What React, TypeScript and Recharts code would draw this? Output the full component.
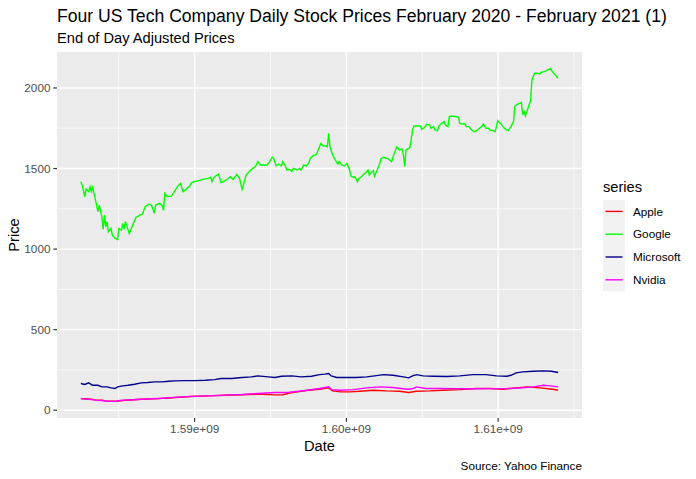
import { LineChart, Line, XAxis, YAxis, CartesianGrid, Legend } from "recharts";

// trading day offsets counted from 2020-02-24, adjusted close prices
const startDate = Date.UTC(2020, 1, 24) / 1000;
const DAY = 86400;

const seriesNames = ["Apple", "Google", "Microsoft", "Nvidia"];
const seriesColors = ["#FF0000", "#00FF00", "#00008B", "#FF00FF"];

const appleDays = [0, 4, 8, 11, 16, 19, 23, 27, 30, 34, 40, 46, 59, 72, 84, 97, 110, 123, 135, 148, 154, 159, 173, 182, 189, 192, 198, 205, 213, 223, 233, 243, 250, 256, 266, 276, 289, 302, 312, 322, 332, 340, 350, 360, 364];
const applePrice = [72, 70, 68, 64, 62, 58, 56, 56, 59, 62, 65, 68, 72, 79, 85, 89, 93, 96, 100, 95, 96, 106, 124, 130, 139, 120, 114, 114, 118, 124, 120, 118, 110, 118, 120, 124, 128, 135, 135, 130, 139, 145, 139, 130, 124];

const googleDays = [0, 1, 3, 4, 6, 7, 8, 9, 10, 12, 13, 14, 16, 17, 18, 19, 20, 21, 23, 24, 26, 28, 29, 31, 32, 33, 34, 36, 37, 40, 42, 45, 47, 49, 52, 54, 56, 57, 60, 62, 63, 64, 66, 69, 72, 74, 76, 78, 81, 83, 84, 86, 90, 93, 97, 99, 100, 102, 105, 107, 111, 114, 116, 119, 121, 123, 124, 126, 129, 131, 133, 135, 137, 140, 142, 144, 146, 147, 149, 151, 153, 154, 156, 157, 159, 161, 162, 165, 167, 168, 170, 172, 174, 175, 177, 179, 180, 182, 183, 185, 187, 188, 189, 190, 192, 194, 196, 197, 199, 201, 203, 205, 206, 208, 209, 211, 212, 214, 216, 218, 219, 220, 222, 223, 224, 226, 228, 229, 231, 233, 235, 237, 239, 241, 243, 245, 246, 247, 248, 250, 251, 253, 254, 257, 259, 260, 262, 264, 266, 267, 269, 270, 272, 273, 275, 277, 278, 280, 281, 283, 286, 288, 289, 291, 293, 294, 296, 298, 300, 302, 304, 306, 307, 309, 311, 312, 314, 316, 318, 320, 322, 324, 326, 328, 330, 331, 333, 335, 336, 337, 338, 339, 341, 343, 344, 345, 346, 348, 350, 351, 354, 356, 358, 360, 364];
const googlePrice = [1418, 1397, 1325, 1373, 1356, 1387, 1356, 1383, 1346, 1273, 1232, 1273, 1201, 1122, 1211, 1139, 1170, 1107, 1128, 1087, 1066, 1060, 1128, 1118, 1159, 1122, 1170, 1118, 1097, 1159, 1196, 1211, 1218, 1263, 1280, 1271, 1222, 1273, 1284, 1273, 1240, 1346, 1325, 1329, 1366, 1391, 1408, 1356, 1377, 1391, 1408, 1418, 1425, 1433, 1439, 1446, 1418, 1449, 1466, 1412, 1429, 1449, 1433, 1464, 1439, 1371, 1398, 1460, 1486, 1501, 1511, 1543, 1522, 1522, 1522, 1543, 1570, 1564, 1516, 1528, 1516, 1543, 1516, 1491, 1495, 1482, 1501, 1491, 1501, 1491, 1522, 1516, 1536, 1564, 1578, 1584, 1594, 1635, 1656, 1640, 1640, 1635, 1718, 1635, 1584, 1553, 1528, 1543, 1522, 1516, 1532, 1491, 1453, 1445, 1449, 1418, 1439, 1449, 1466, 1480, 1491, 1460, 1480, 1486, 1453, 1491, 1532, 1563, 1570, 1564, 1557, 1543, 1594, 1635, 1615, 1622, 1584, 1511, 1615, 1625, 1631, 1739, 1764, 1764, 1764, 1743, 1755, 1776, 1770, 1750, 1760, 1739, 1735, 1764, 1780, 1791, 1770, 1760, 1822, 1826, 1822, 1818, 1780, 1776, 1776, 1760, 1760, 1739, 1729, 1735, 1750, 1764, 1776, 1750, 1750, 1739, 1735, 1729, 1797, 1780, 1760, 1743, 1735, 1760, 1791, 1888, 1900, 1904, 1909, 1832, 1853, 1826, 1874, 1922, 2050, 2070, 2091, 2091, 2087, 2097, 2103, 2112, 2120, 2097, 2060];

const msftDays = [0, 3, 6, 9, 13, 16, 20, 23, 26, 28, 32, 36, 41, 46, 51, 56, 62, 67, 72, 79, 87, 95, 102, 107, 115, 123, 130, 135, 143, 148, 153, 161, 168, 176, 182, 186, 189, 191, 195, 203, 210, 218, 224, 231, 238, 246, 250, 253, 256, 261, 269, 279, 289, 299, 309, 317, 325, 328, 332, 337, 345, 353, 359, 364];
const msftPrice = [166, 160, 170, 155, 155, 145, 145, 139, 135, 145, 151, 155, 161, 170, 172, 176, 176, 180, 182, 184, 184, 186, 190, 197, 197, 203, 207, 213, 207, 203, 211, 213, 207, 211, 221, 224, 228, 213, 203, 203, 203, 207, 213, 221, 217, 207, 201, 213, 221, 213, 211, 209, 213, 221, 221, 213, 211, 217, 232, 238, 242, 244, 242, 234];

const nvdaDays = [0, 4, 8, 11, 16, 19, 23, 27, 30, 34, 40, 46, 59, 72, 84, 97, 110, 123, 135, 148, 154, 159, 173, 182, 189, 191, 198, 208, 218, 228, 238, 249, 253, 256, 263, 274, 284, 294, 304, 314, 325, 335, 345, 353, 358, 364];
const nvdaPrice = [72, 69, 67, 63, 60, 57, 55, 56, 60, 63, 65, 68, 73, 80, 86, 89, 94, 98, 104, 110, 110, 112, 124, 135, 145, 128, 124, 128, 139, 145, 141, 130, 133, 145, 135, 135, 134, 133, 133, 134, 135, 138, 145, 155, 151, 145];

const xTicks = [1.59e9, 1.6e9, 1.61e9];
const xMinor = [1.585e9, 1.595e9, 1.605e9, 1.615e9];
const yTicks = [0, 500, 1000, 1500, 2000];
const yMinor = [250, 750, 1250, 1750];

const FONT = "'Liberation Sans', Arial, Helvetica, sans-serif";

function toPoints(days: number[], prices: number[]) {
  return days.map((d, i) => ({ t: startDate + d * DAY, price: prices[i] }));
}

const seriesData = [
  toPoints(appleDays, applePrice),
  toPoints(googleDays, googlePrice),
  toPoints(msftDays, msftPrice),
  toPoints(nvdaDays, nvdaPrice),
];

// ggplot-style 5% expansion of the data range
const allT = seriesData.flat().map((p) => p.t);
const allY = seriesData.flat().map((p) => p.price);
const tMin = Math.min(...allT);
const tMax = Math.max(...allT);
const yMin = Math.min(...allY);
const yMax = Math.max(...allY);
const xDomain = [tMin - (tMax - tMin) * 0.05, tMax + (tMax - tMin) * 0.05];
const yDomain = [yMin - (yMax - yMin) * 0.05, yMax + (yMax - yMin) * 0.05];

function LegendBox() {
  const keyH = 22.8;
  return (
    <svg width={93} height={115} style={{ display: "block", fontFamily: FONT }}>
      <text x={0} y={12} fontSize={14.67} fill="#000">series</text>
      <rect x={0} y={20} width={22} height={keyH * 4} fill="#F2F2F2" />
      {seriesNames.map((name, i) => {
        const cy = 20 + keyH * i + keyH / 2;
        return (
          <g key={name}>
            <line x1={2.5} x2={19.5} y1={cy} y2={cy} stroke={seriesColors[i]} strokeWidth={1.4} />
            <text x={30} y={cy + 4.2} fontSize={11.73} fill="#000">{name}</text>
          </g>
        );
      })}
    </svg>
  );
}

export default function App() {
  return (
    <div style={{ position: "absolute", left: 0, top: 0, width: 696, height: 479, background: "#fff", fontFamily: FONT }}>
      <LineChart width={696} height={479} margin={{ top: 52, right: 114, bottom: 41, left: 7 }}>
        <CartesianGrid fill="#EBEBEB" stroke="#FFFFFF" strokeWidth={0.7} horizontalValues={yMinor} verticalValues={xMinor} />
        <CartesianGrid stroke="#FFFFFF" strokeWidth={1.4} horizontalValues={yTicks} verticalValues={xTicks} />
        <XAxis
          type="number"
          dataKey="t"
          domain={xDomain}
          allowDataOverflow
          ticks={xTicks}
          tickFormatter={(v: number) => (v / 1e9).toFixed(2) + "e+09"}
          height={20}
          axisLine={false}
          tickSize={3.67}
          tickMargin={2.9}
          tickLine={{ stroke: "#333333", strokeWidth: 1.2 }}
          tick={{ fontSize: 11.73, fill: "#4D4D4D", fontFamily: FONT }}
        />
        <YAxis
          type="number"
          domain={yDomain}
          allowDataOverflow
          ticks={yTicks}
          width={50}
          axisLine={false}
          tickSize={3.67}
          tickMargin={2.9}
          tickLine={{ stroke: "#333333", strokeWidth: 1.2 }}
          tick={{ fontSize: 11.73, fill: "#4D4D4D", fontFamily: FONT }}
        />
        <Legend
          layout="horizontal"
          align="center"
          verticalAlign="middle"
          wrapperStyle={{ left: 603, top: 180, width: 93, height: 115 }}
          content={() => <LegendBox />}
        />
        {seriesNames.map((name, i) => (
          <Line
            key={name}
            data={seriesData[i]}
            dataKey="price"
            name={name}
            type="linear"
            stroke={seriesColors[i]}
            strokeWidth={1.4}
            dot={false}
            activeDot={false}
            isAnimationActive={false}
          />
        ))}
      </LineChart>
      <svg width={696} height={479} style={{ position: "absolute", left: 0, top: 0, pointerEvents: "none", fontFamily: FONT }}>
        <text x={57} y={22} fontSize={17.6} fill="#000">
          Four US Tech Company Daily Stock Prices February 2020 - February 2021 (1)
        </text>
        <text x={57} y={42.5} fontSize={14.67} fill="#000">End of Day Adjusted Prices</text>
        <text x={319.5} y={451} fontSize={14.67} fill="#000" textAnchor="middle">Date</text>
        <text x={19} y={235} fontSize={14.67} fill="#000" textAnchor="middle" transform="rotate(-90 19 235)">Price</text>
        <text x={582} y={470} fontSize={11.73} fill="#000" textAnchor="end">Source: Yahoo Finance</text>
      </svg>
    </div>
  );
}
